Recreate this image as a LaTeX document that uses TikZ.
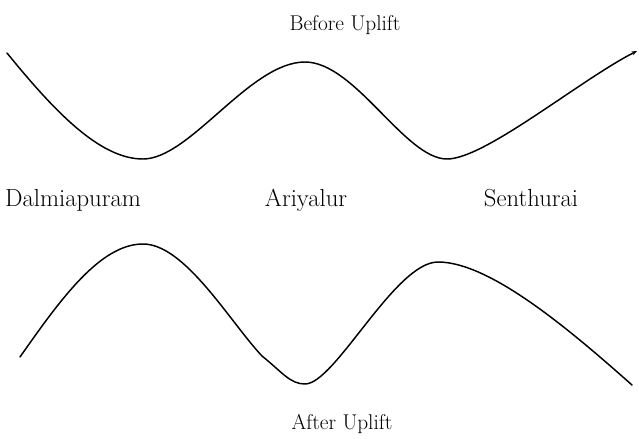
\documentclass[tikz,border=0pt]{standalone}
\usetikzlibrary{arrows.meta}
\begin{document}
\begin{tikzpicture}[x=0.75pt,y=-0.75pt,
  profile/.style={line width=1.1pt,line cap=round,line join=round},
  bigtxt/.style={font=\fontsize{18.5}{20}\selectfont,inner sep=0pt,anchor=base},
  captxt/.style={font=\fontsize{16}{18}\selectfont,inner sep=0pt,anchor=base}]
\useasboundingbox (0,0) rectangle (639,439);
% labels
\node[captxt] (before) at (345,30) {Before Uplift};
\node[captxt] (after) at (342,429) {After Uplift};
\node[bigtxt] (dal) at (73,206) {Dalmiapuram};
\node[bigtxt] (ari) at (306,206) {Ariyalur};
\node[bigtxt] (sen) at (531,206) {Senthurai};
% before uplift profile
\draw[profile,-{Stealth[length=4pt,width=3pt]}] (7,53)
  .. controls (55,112) and (100,159) .. (143,159)
  .. controls (190,159) and (250,62) .. (305,62)
  .. controls (355,62) and (405,159) .. (447,159)
  .. controls (485,159) and (580,80) .. (637,51);
% after uplift profile
\draw[profile] (20,357)
  .. controls (60,300) and (100,244) .. (143,244)
  .. controls (185,244) and (230,322) .. (262,356)
  .. controls (282,372) and (290,384) .. (305,384)
  .. controls (335,384) and (395,262) .. (438,262)
  .. controls (490,262) and (570,330) .. (632,385);
\end{tikzpicture}
\end{document}
